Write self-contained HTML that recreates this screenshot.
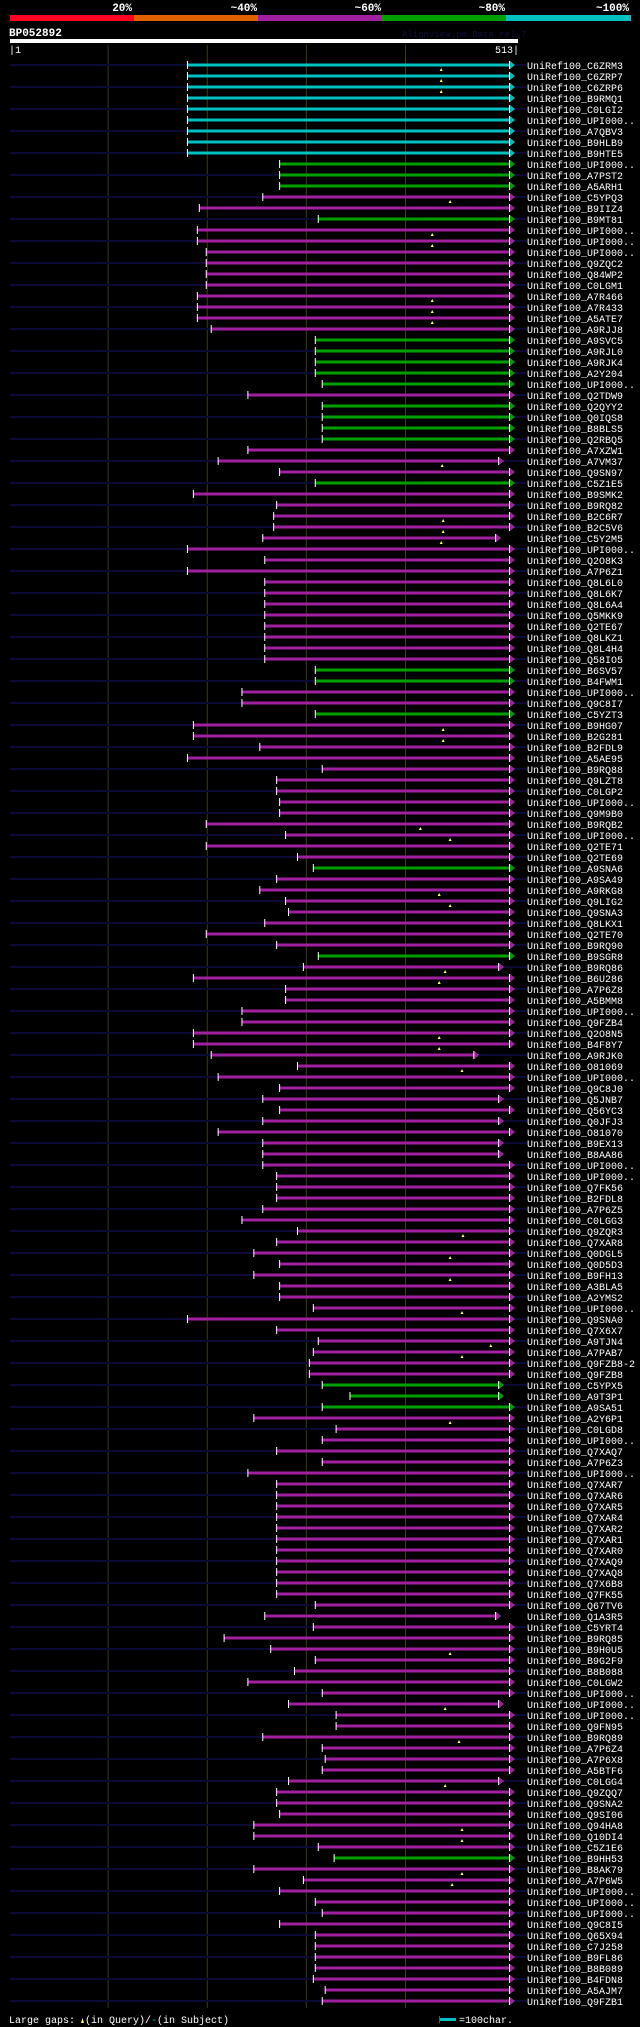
<!DOCTYPE html>
<html><head><meta charset="utf-8"><style>
html,body{margin:0;padding:0;background:#000;}
svg{display:block;}
</style></head><body>
<svg id="chart" width="640" height="2027" viewBox="0 0 640 2027" xmlns="http://www.w3.org/2000/svg" font-family="'Liberation Mono', monospace">
<rect x="0" y="0" width="640" height="2027" fill="#000"/>
<g>
<rect x="10" y="15" width="124" height="6" fill="#ff0020"/>
<rect x="134" y="15" width="124" height="6" fill="#e06000"/>
<rect x="258" y="15" width="124" height="6" fill="#a020a0"/>
<rect x="382" y="15" width="124" height="6" fill="#00a000"/>
<rect x="506" y="15" width="125" height="6" fill="#00c0c0"/>
<g fill="#fff" font-weight="bold" font-size="11" text-anchor="end">
<text x="132" y="11">20%</text>
<text x="257" y="11">~40%</text>
<text x="381" y="11">~60%</text>
<text x="505" y="11">~80%</text>
<text x="629" y="11">~100%</text>
</g>
</g>
<text x="9" y="36" fill="#fff" font-weight="bold" font-size="11">BP052892</text>
<text x="402" y="37" fill="#101040" font-size="9">AlignView.pm Beta rel.7</text>
<rect x="10" y="39" width="508" height="4" fill="#fff"/>
<text x="9" y="53" fill="#fff" font-size="10">|1</text>
<text x="519" y="53" fill="#fff" font-size="10" text-anchor="end">513|</text>
<g id="grid"></g>
<g id="rows"></g>
<g font-size="10" fill="#fff">
<text x="9" y="2023">Large gaps:</text>
<polygon points="81,2023 84,2023 82.5,2018" fill="#ffff60"/>
<text x="85" y="2023">(in Query)/</text>
<text x="151" y="2023" fill="#00c0c0">-</text>
<text x="157" y="2023">(in Subject)</text>
<rect x="439" y="2018" width="17" height="3" fill="#00c0c0"/>
<rect x="439" y="2016" width="1" height="7" fill="#406060"/>
<text x="459" y="2023">=100char.</text>
</g>
</svg>
<script>
const names = ["C6ZRM3","C6ZRP7","C6ZRP6","B9RMQ1","C0LGI2","UPI000..","A7QBV3","B9HLB9","B9HTE5","UPI000..","A7PST2","A5ARH1","C5YPQ3","B9IIZ4","B9MT81","UPI000..","UPI000..","UPI000..","Q9ZQC2","Q84WP2","C0LGM1","A7R466","A7R433","A5ATE7","A9RJJ8","A9SVC5","A9RJL0","A9RJK4","A2Y204","UPI000..","Q2TDW9","Q2QYY2","Q0IQS8","B8BLS5","Q2RBQ5","A7XZW1","A7VM37","Q9SN97","C5Z1E5","B9SMK2","B9RQ82","B2C6R7","B2C5V6","C5Y2M5","UPI000..","Q2O8K3","A7P6Z1","Q8L6L0","Q8L6K7","Q8L6A4","Q5MKK9","Q2TE67","Q8LKZ1","Q8L4H4","Q58IO5","B6SV57","B4FWM1","UPI000..","Q9C8I7","C5YZT3","B9HG07","B2G281","B2FDL9","A5AE95","B9RQ88","Q9LZT8","C0LGP2","UPI000..","Q9M9B0","B9RQB2","UPI000..","Q2TE71","Q2TE69","A9SNA6","A9SA49","A9RKG8","Q9LIG2","Q9SNA3","Q8LKX1","Q2TE70","B9RQ90","B9SGR8","B9RQ86","B6U286","A7P6Z8","A5BMM8","UPI000..","Q9FZB4","Q2O8N5","B4F8Y7","A9RJK0","O81069","UPI000..","Q9C8J0","Q5JNB7","Q56YC3","Q0JFJ3","O81070","B9EX13","B8AA86","UPI000..","UPI000..","Q7FK56","B2FDL8","A7P6Z5","C0LGG3","Q9ZQR3","Q7XAR8","Q0DGL5","Q0D5D3","B9FH13","A3BLA5","A2YMS2","UPI000..","Q9SNA0","Q7X6X7","A9TJN4","A7PAB7","Q9FZB8-2","Q9FZB8","C5YPX5","A9T3P1","A9SA51","A2Y6P1","C0LGD8","UPI000..","Q7XAQ7","A7P6Z3","UPI000..","Q7XAR7","Q7XAR6","Q7XAR5","Q7XAR4","Q7XAR2","Q7XAR1","Q7XAR0","Q7XAQ9","Q7XAQ8","Q7X6B8","Q7FK55","Q67TV6","Q1A3R5","C5YRT4","B9RQ85","B9H0U5","B9G2F9","B8B088","C0LGW2","UPI000..","UPI000..","UPI000..","Q9FN95","B9RQ89","A7P6Z4","A7P6X8","A5BTF6","C0LGG4","Q9ZQQ7","Q9SNA2","Q9SI06","Q94HA8","Q10DI4","C5Z1E6","B9HH53","B8AK79","A7P6W5","UPI000..","UPI000..","UPI000..","Q9C8I5","Q65X94","C7J258","B9FL86","B8B089","B4FDN8","A5AJM7","Q9FZB1"];
const starts = [180,180,180,180,180,180,180,180,180,273,273,273,256,192,312,190,190,199,199,199,199,190,190,190,204,309,309,309,309,316,241,316,316,316,316,241,211,273,309,186,270,267,267,256,180,258,180,258,258,258,258,258,258,258,258,309,309,235,235,309,186,186,253,180,316,270,270,273,273,199,279,199,291,307,270,253,279,282,258,199,270,312,297,186,279,279,235,235,186,186,204,291,211,273,256,273,256,211,256,256,256,270,270,270,256,235,291,270,247,273,247,273,273,307,180,270,312,307,303,303,316,344,316,247,330,316,270,316,241,270,270,270,270,270,270,270,270,270,270,270,309,258,307,217,264,309,288,241,316,282,330,330,256,316,319,316,282,270,270,273,247,247,312,328,247,297,273,309,316,273,309,309,309,309,307,319,316];
const endOverrides = {36:502,43:499,82:502,90:477,94:502,96:502,98:502,99:502,120:502,121:502,141:499,149:502,156:502};
const identityRuns = [["c",9],["g",3],["p",2],["g",1],["p",10],["g",5],["p",1],["g",4],["p",3],["g",1],["p",16],["g",2],["p",2],["g",1],["p",13],["g",1],["p",7],["g",1],["p",38],["g",3],["p",40],["g",1],["p",13]];
const queryGaps = {0:436,1:436,2:436,12:445,15:427,16:427,21:427,22:427,23:427,36:437,41:438,42:438,43:436,60:438,61:438,69:415,70:445,75:434,76:445,82:440,83:434,88:434,89:434,91:457,106:458,108:445,110:445,113:457,116:486,117:457,123:445,144:445,149:440,152:454,156:440,160:457,161:457,164:457,165:447};
const gridTicks = [100,200,300,400];

const identityClass = [];
identityRuns.forEach(([c,n])=>{ for(let k=0;k<n;k++) identityClass.push(c); });
const colorMap = {c:"#00c0c0", g:"#00a000", p:"#a020a0"};
const NS = "http://www.w3.org/2000/svg";
function xScale(r){ return 10 + (r-1)*507.5/512; }
function yRow(i){ return 65 + i*11; }
function mk(tag, attrs, parent){ const e=document.createElementNS(NS,tag); for(const k in attrs) e.setAttribute(k, attrs[k]); parent.appendChild(e); return e; }

const grid = document.getElementById('grid');
gridTicks.forEach(t=>{
  const l = mk('line',{x1:xScale(t),x2:xScale(t),y1:45,y2:2008,stroke:'#3a3a14','stroke-width':1},grid);
  
  
});
const rowsG = document.getElementById('rows');
names.forEach((n,i)=>{
  const y = yRow(i);
  const g = mk('g',{},rowsG);
  
  
  if(i%2===0){ mk('rect',{x:10,y:y-1,width:517,height:2,fill:'#0a0a34'},g); }
  const end = endOverrides[i] || 513;
  const xs = xScale(starts[i]);
  const tip = xScale(end)-2.5;
  const col = colorMap[identityClass[i] || 'p'];
  const bar = mk('rect',{x:xs,y:y-1.5,width:Math.max(0,tip-5-xs),height:3,fill:col},g);
  
  
  mk('polygon',{points:`${tip-5},${y-4} ${tip},${y} ${tip-5},${y+4}`,fill:col},g);
  mk('line',{x1:tip-5.5,x2:tip-5.5,y1:y-4,y2:y+4,stroke:'#fff','stroke-width':1},g);
  mk('rect',{x:xs-0.5,y:y-4,width:1,height:8,fill:'#fff'},g);
  if(queryGaps[i]){
    const gx = xScale(queryGaps[i]);
    const m = mk('polygon',{points:`${gx-1.5},${y+6} ${gx+1.5},${y+6} ${gx},${y+3}`,fill:'#ffff60'},g);
    
    
  }
  const t = mk('text',{x:527,y:y+4,fill:'#fff','font-size':10},g);
  t.textContent = 'UniRef100_'+n;
  
  
});
</script>
</body></html>
